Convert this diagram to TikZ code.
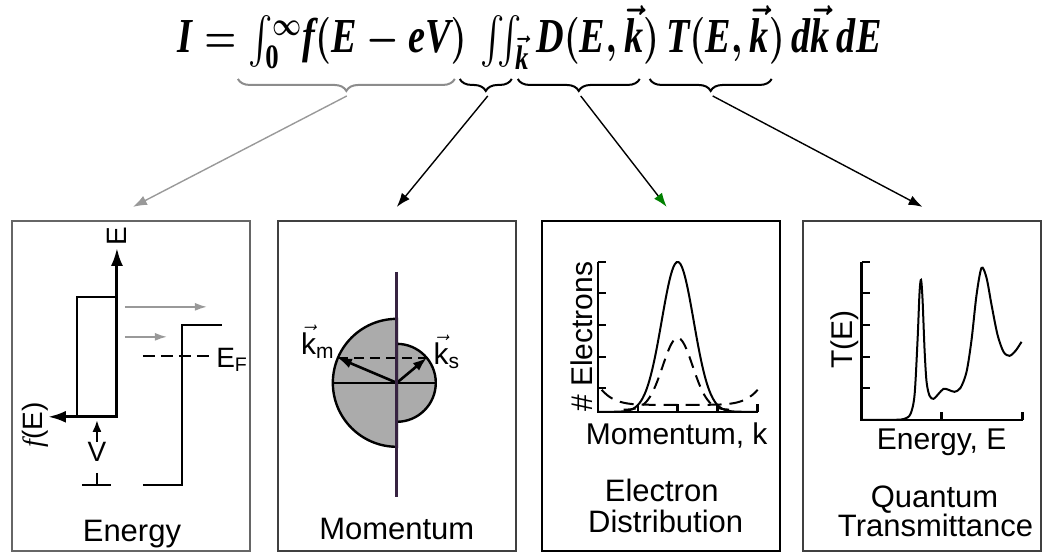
\documentclass[tikz,border=0pt]{standalone}
\usepackage{amsmath}
\usepackage{graphicx}
\usepackage{fontspec}
\setmainfont{Liberation Sans}
\newfontfamily\eqfont{Liberation Serif}
\usetikzlibrary{arrows.meta,decorations.pathreplacing}

\newcommand{\bi}[1]{\text{\eqfont\bfseries\itshape #1}}
\newcommand{\kvec}{$\vec{\mbox{k}}$}
\newsavebox{\eqbox}

\begin{document}
\sbox{\eqbox}{\resizebox{352pt}{0.94\height}{\fontsize{26}{30}\selectfont\boldmath$\bi{I}
    = \int_{\text{\eqfont\bfseries 0}}^{\lower4pt\hbox{$\scriptstyle\infty$}}\! \bi{f}(\bi{E} - \bi{eV})\,
    \iint_{\vec{\bi{k}}} \bi{D}(\bi{E},\vec{\bi{k}})\, \bi{T}(\bi{E},\vec{\bi{k}})\,
    \bi{d}\vec{\bi{k}}\, \bi{dE}$}}
\begin{tikzpicture}[
        x=0.5pt, y=-0.5pt,
        formula/.style={
            anchor=base,
            inner sep=0pt
        },
        panel/.style={
            rectangle,
            draw=black!75,
            line width=1pt,
            minimum width=119pt,
            minimum height=165pt,
            inner sep=0pt
        },
        caption/.style={
            anchor=base,
            font=\fontsize{15.5}{18}\selectfont
        },
        axlabel/.style={
            font=\fontsize{15}{18}\selectfont
        },
        small/.style={
            font=\fontsize{14}{16}\selectfont
        },
        bracket/.style={
            decorate,
            decoration={brace, mirror, amplitude=6pt},
            line width=1pt
        },
        conn/.style={
            -{Latex[length=7pt,width=5pt]},
            line width=0.7pt
        },
        thickline/.style={
            line width=1.2pt
        },
        bigtip/.style={
            -{Latex[length=9pt,width=6pt]},
            line width=1.5pt
        },
        graytip/.style={
            -{Latex[length=6pt,width=4pt]},
            black!40,
            line width=0.8pt
        },
        curve/.style={
            line width=1pt
        }
    ]

    \path (0,0) rectangle (1042,555);

    \node[formula] (eq) at (530,53) {\usebox{\eqbox}};

    \draw[bracket, black!45] (238,79) -- (455,79);
    \draw[bracket] (460,79) -- (512,79);
    \draw[bracket] (518,79) -- (640,79);
    \draw[bracket] (650,79) -- (772,79);

    \coordinate (fermi) at (347,96);
    \coordinate (kint) at (488,96);
    \coordinate (dos) at (581,96);
    \coordinate (trans) at (713,96);

    \node[panel, draw=black!60] (energy) at (131,386.5) {};
    \node[panel] (momentum) at (397.5,386.5) {};
    \node[panel, draw=black] (distrib) at (661,386.5) {};
    \node[panel] (transm) at (922.5,386.5) {};

    \coordinate (energytop) at (133,207);
    \coordinate (momentumtop) at (397,207);
    \coordinate (distribtop) at (667,207);
    \coordinate (transmtop) at (923,207);

    \draw[conn, black!40] (fermi) -- (energytop);
    \draw[conn] (kint) -- (momentumtop);
    \draw[conn, -{Latex[length=7pt,width=5pt,color=green!50!black]}] (dos) -- (distribtop);
    \draw[conn] (trans) -- (transmtop);

    \draw[thickline] (117,297) -- (77,297) -- (77,417);
    \draw[bigtip] (117,418) -- (117,248);
    \draw[bigtip] (118,417) -- (48,417);
    \node[small, rotate=90] (elabel) at (117,236) {E};
    \node[small, rotate=90] (flabel) at (35,425) {{\eqfont\itshape f}(E)};
    \draw[-{Latex[length=6pt,width=4.5pt]}, line width=1.2pt] (97,442) -- (97,420);
    \node[small] (vlabel) at (97,452) {V};
    \draw[thickline] (97,473) -- (97,485) (82,485) -- (111,485);
    \draw[thickline] (143,485) -- (182,485) -- (182,325) -- (222,325);
    \draw[thickline, dash pattern=on 6pt off 3pt] (143,356) -- (213,356);
    \node[small, anchor=west, inner sep=0pt] (eflabel) at (216,360) {E\textsubscript{F}};
    \draw[graytip] (125,307) -- (207,307);
    \draw[graytip] (125,337) -- (167,337);
    \node[caption] (energytext) at (132,542) {Energy};

    \filldraw[fill=black!33, thickline] (397,447) arc[start angle=90, end angle=270, radius=64] -- cycle;
    \filldraw[fill=black!33, thickline] (397,344) arc[start angle=-90, end angle=90, radius=39] -- cycle;
    \draw[line width=1pt] (333,383) -- (436,383);
    \draw[thickline, dash pattern=on 5pt off 3pt] (338,358) -- (427,358);
    \draw[-{Latex[length=7pt,width=5pt]}, line width=1.3pt] (397,383) -- (338,358);
    \draw[-{Latex[length=7pt,width=5pt]}, line width=1.3pt] (397,383) -- (427,358);
    \draw[line width=1.6pt, color={rgb,255:red,55;green,35;blue,65}] (397,272) -- (397,497);
    \node[axlabel] (kmlabel) at (318,342) {\kvec\textsubscript{m}};
    \node[axlabel] (kslabel) at (447,352) {\kvec\textsubscript{s}};
    \node[caption] (momentumtext) at (397,540) {Momentum};

    \draw[thickline] (598,262) -- (598,412) -- (758,412);
    \foreach \t in {262,293,325,357,388}
        \draw[thickline] (598,\t) -- (606,\t);
    \foreach \t in {638,678,718,758}
        \draw[thickline] (\t,412) -- (\t,404);
    \draw[curve, smooth, domain=598:758, samples=90]
        plot (\x,{412-150*exp(-((\x-678)/16)*((\x-678)/16)/2)});
    \draw[curve, smooth, dash pattern=on 6pt off 4pt, domain=624:732, samples=60]
        plot (\x,{410-72*exp(-((\x-678)/15)*((\x-678)/15)/2)});
    \draw[curve, smooth, dash pattern=on 7pt off 4pt, domain=602:758, samples=60]
        plot (\x,{405-15*(((\x-680)/78)*((\x-680)/78))^3});
    \node[axlabel, rotate=90] (nlabel) at (582,337) {\# Electrons};
    \node[axlabel, anchor=base] (klabel) at (677,445) {Momentum, k};
    \node[caption] (distribtext1) at (662,502) {Electron};
    \node[caption] (distribtext2) at (666,533) {Distribution};

    \draw[thickline] (862,262) -- (862,420) -- (1023,420);
    \foreach \t in {262,293,325,357,388}
        \draw[thickline] (862,\t) -- (870,\t);
    \foreach \t in {942,1023}
        \draw[thickline] (\t,420) -- (\t,412);
    \draw[curve] plot[smooth, tension=0.5] coordinates {
        (862,420) (895,420) (905,419) (911,414) (915,395) (918,340) (920,292)
        (921.5,280) (923,300) (925,350) (927,382) (930,396) (934,399) (939,394)
        (944,389) (949,390) (955,392) (961,388) (967,372) (972,340) (977,295)
        (982,268) (987,278) (992,305) (998,335) (1004,352) (1010,356) (1016,351)
        (1022,342)};
    \node[axlabel, rotate=90] (tlabel) at (845,340) {T(E)};
    \node[axlabel, anchor=base] (elabel2) at (942,450) {Energy, E};
    \node[caption] (transmtext1) at (935,508) {Quantum};
    \node[caption] (transmtext2) at (936,537) {Transmittance};

\end{tikzpicture}
\end{document}
